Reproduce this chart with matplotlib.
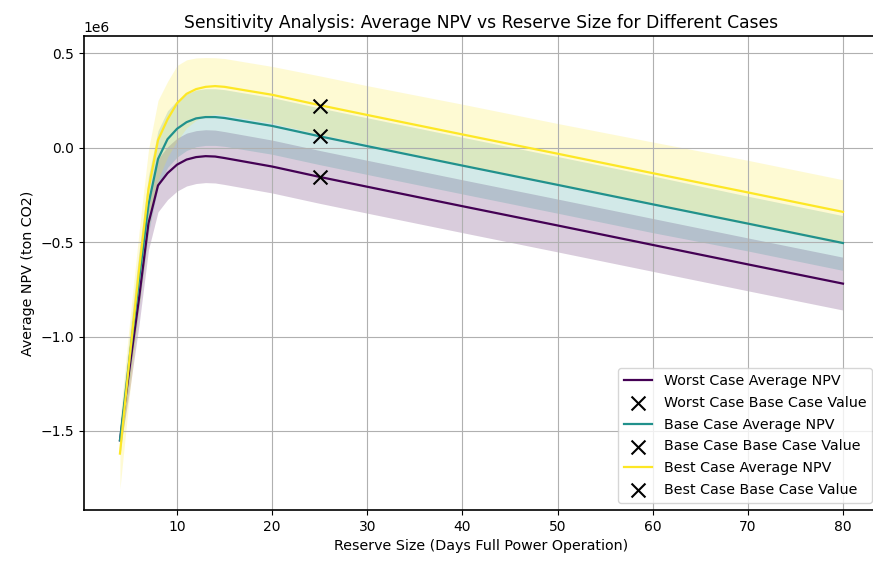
#! /usr/bin/env python3
# coding: utf-8

import matplotlib
matplotlib.use('Agg')
import matplotlib.pyplot as plt
import numpy as np

# reserve size (days of full power operation)
reserve_days = [4, 5, 6, 7, 8, 9, 10, 11, 12, 13, 14, 15, 17, 20, 25,
                30, 40, 50, 60, 70, 80]

# average NPV (1e6 ton CO2) per case
worst_npv = [-1.55, -1.17, -0.80, -0.40, -0.20, -0.135, -0.09, -0.063, -0.05,
             -0.045, -0.047, -0.055, -0.073, -0.10, -0.155, -0.207, -0.31,
             -0.412, -0.515, -0.618, -0.72]
base_npv = [-1.55, -1.12, -0.70, -0.30, -0.06, 0.045, 0.10, 0.135, 0.155,
            0.162, 0.162, 0.157, 0.14, 0.115, 0.06, 0.008, -0.095, -0.197,
            -0.30, -0.402, -0.505]
best_npv = [-1.62, -1.12, -0.65, -0.22, 0.04, 0.15, 0.235, 0.285, 0.31, 0.322,
            0.326, 0.322, 0.305, 0.28, 0.225, 0.173, 0.07, -0.032, -0.135,
            -0.237, -0.34]

# standard deviation of the NPV (1e6 ton CO2)
worst_std = [0.05, 0.12, 0.14, 0.14, 0.14, 0.14, 0.14, 0.14, 0.14, 0.14,
             0.14, 0.14, 0.14, 0.14, 0.14, 0.14, 0.14, 0.14, 0.14, 0.14, 0.14]
base_std = [0.08, 0.12, 0.15, 0.15, 0.15, 0.15, 0.15, 0.15, 0.15, 0.15,
            0.15, 0.15, 0.15, 0.15, 0.15, 0.15, 0.15, 0.15, 0.15, 0.145, 0.145]
best_std = [0.185, 0.19, 0.2, 0.21, 0.21, 0.2, 0.2, 0.18, 0.165, 0.155,
            0.15, 0.15, 0.15, 0.15, 0.155, 0.155, 0.16, 0.16, 0.165, 0.17, 0.17]

# base case value markers
base_case_days = 25
base_case_values = [-0.153, 0.06, 0.223]

case_names = ['Worst Case', 'Base Case', 'Best Case']
case_colors = ['#440154', '#21918c', '#fde725']


def plot():
    fig = plt.figure(figsize=(8.73, 5.63), dpi=100)
    ax = fig.add_axes([0.096, 0.094, 0.911, 0.842])

    x = np.array(reserve_days)
    series = [(worst_npv, worst_std), (base_npv, base_std), (best_npv, best_std)]
    for (npv, std), name, color, marker_val in zip(series, case_names,
                                                  case_colors, base_case_values):
        mean = np.array(npv) * 1e6
        sd = np.array(std) * 1e6
        ax.plot(x, mean, color=color, lw=1.6, label='{} Average NPV'.format(name))
        ax.fill_between(x, mean - sd, mean + sd, color=color, alpha=0.2, lw=0)
        ax.scatter(base_case_days, marker_val * 1e6, color='black', marker='x',
                   s=100, zorder=5, label='{} Base Case Value'.format(name))

    ax.set_title('Sensitivity Analysis: Average NPV vs Reserve Size for Different Cases',
                 fontsize=12.3)
    ax.set_xlabel('Reserve Size (Days Full Power Operation)', fontsize=10.3)
    ax.set_ylabel('Average NPV (ton CO2)', fontsize=10.3)
    ax.grid(True)
    for side in ['top', 'left', 'bottom']:
        ax.spines[side].set_linewidth(1.2)
    ax.legend(loc='lower right', fontsize=10.3, labelspacing=0.55)

    fig.savefig('out.png', dpi=100)


if __name__ == '__main__':
    plot()
